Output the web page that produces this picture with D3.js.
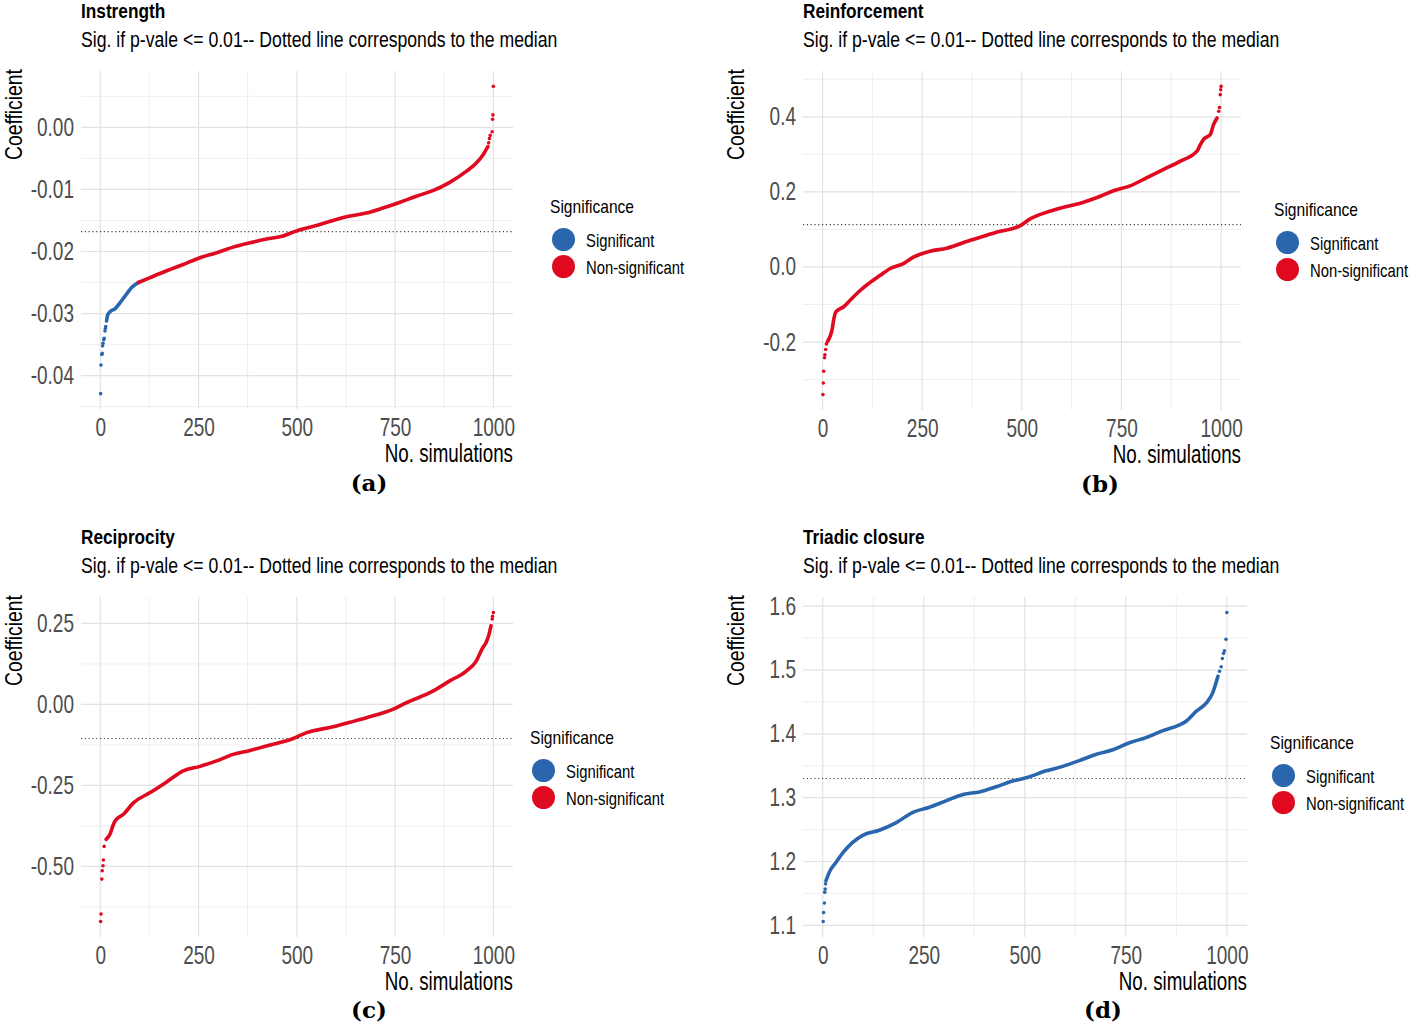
<!DOCTYPE html>
<html>
<head>
<meta charset="utf-8">
<script src="https://cdn.jsdelivr.net/npm/d3@7"></script>
<style>
  body { margin: 0; background: #fff; }
  svg text { font-family: 'Liberation Sans', Arial, sans-serif; }
  svg text.tag { font-family: 'DejaVu Serif', 'Liberation Serif', serif; font-weight: bold; }
</style>
</head>
<body>
<svg id="chart" width="1416" height="1030"></svg>
<script>
"use strict";

// values (rank of simulation -> coefficient)
// isolated points in the tails are kept as dots, the dense middle as a curve
const instrengthDotRank = [1, 2, 4, 5, 6, 7, 9, 10, 12, 13, 14, 988, 990, 992, 997, 998, 999, 1000];
const instrengthDotCoef = [-0.0429, -0.0383, -0.0366, -0.0364, -0.0352, -0.0348, -0.0342, -0.0340, -0.0328, -0.0324, -0.0321,
    -0.0025, -0.0018, -0.0013, -0.0007, 0.0013, 0.0020, 0.0066];
const instrengthCurveRank = [16, 19, 25, 38, 51, 63, 80, 97, 127, 169, 211, 254, 296, 338, 381, 423, 465, 490, 508, 550,
    592, 635, 677, 719, 761, 804, 846, 888, 931, 956, 973, 986];
const instrengthCurveCoef = [-0.0312, -0.0302, -0.0297, -0.0292, -0.0282, -0.0272, -0.0258, -0.0250, -0.0242, -0.0231,
    -0.0221, -0.0210, -0.0202, -0.0193, -0.0186, -0.0180, -0.0175, -0.0169, -0.0165, -0.0158, -0.0150, -0.0143, -0.0138,
    -0.0130, -0.0121, -0.0111, -0.0102, -0.0089, -0.0071, -0.0058, -0.0045, -0.0031];
const instrengthSignificant = 97;
const instrengthMedian = -0.0168;
const instrengthTicks = [-0.04, -0.03, -0.02, -0.01, 0.00];

const reinforcementDotRank = [1, 2, 3, 5, 6, 8, 10, 994, 996, 998, 999, 1000];
const reinforcementDotCoef = [-0.340, -0.309, -0.278, -0.242, -0.234, -0.220, -0.205, 0.415, 0.425, 0.459, 0.472, 0.481];
const reinforcementCurveRank = [13, 19, 24, 28, 34, 53, 70, 95, 111, 145, 170, 203, 228, 270, 312, 354, 396, 438, 496, 521,
    563, 605, 647, 689, 730, 772, 814, 856, 898, 940, 948, 956, 973, 981, 990];
const reinforcementCurveCoef = [-0.198, -0.185, -0.167, -0.141, -0.119, -0.106, -0.088, -0.062, -0.048, -0.022, -0.004,
    0.009, 0.026, 0.042, 0.050, 0.065, 0.079, 0.093, 0.110, 0.128, 0.146, 0.159, 0.170, 0.185, 0.203, 0.216, 0.238, 0.260,
    0.282, 0.309, 0.326, 0.340, 0.353, 0.379, 0.397];
const reinforcementSignificant = 0;
const reinforcementMedian = 0.113;
const reinforcementTicks = [-0.2, 0.0, 0.2, 0.4];

const reciprocityDotRank = [1, 2, 4, 5, 7, 8, 10, 997, 998, 1000];
const reciprocityDotCoef = [-0.670, -0.647, -0.539, -0.513, -0.498, -0.480, -0.438, 0.264, 0.272, 0.284];
const reciprocityCurveRank = [15, 25, 32, 38, 59, 85, 127, 169, 211, 254, 296, 338, 381, 423, 491, 525, 592, 635, 677, 744,
    778, 846, 888, 931, 956, 973, 981, 990, 994];
const reciprocityCurveCoef = [-0.416, -0.400, -0.375, -0.359, -0.339, -0.303, -0.272, -0.239, -0.205, -0.191, -0.174,
    -0.154, -0.142, -0.128, -0.105, -0.087, -0.069, -0.055, -0.041, -0.015, 0.005, 0.041, 0.072, 0.103, 0.133, 0.175, 0.190,
    0.221, 0.243];
const reciprocitySignificant = 0;
const reciprocityMedian = -0.105;
const reciprocityTicks = [-0.50, -0.25, 0.00, 0.25];

const triadicDotRank = [1, 2, 4, 5, 6, 7, 982, 986, 989, 992, 994, 998, 1000];
const triadicDotCoef = [1.106, 1.120, 1.135, 1.152, 1.157, 1.165, 1.498, 1.505, 1.518, 1.526, 1.530, 1.548, 1.590];
const triadicCurveRank = [8, 16, 33, 50, 74, 99, 140, 182, 223, 264, 305, 347, 388, 429, 470, 503, 553, 594, 635, 677, 718,
    759, 800, 842, 883, 900, 924, 949, 965, 978];
const triadicCurveCoef = [1.170, 1.183, 1.199, 1.214, 1.230, 1.241, 1.249, 1.261, 1.277, 1.285, 1.295, 1.305, 1.309,
    1.317, 1.326, 1.331, 1.342, 1.349, 1.358, 1.368, 1.375, 1.386, 1.394, 1.405, 1.414, 1.420, 1.435, 1.448, 1.464, 1.490];
const triadicSignificant = 1000;
const triadicMedian = 1.330;
const triadicTicks = [1.1, 1.2, 1.3, 1.4, 1.5, 1.6];

const simTicks = [0, 250, 500, 750, 1000];
const simCount = 1000;
const legendLabels = ["Significant", "Non-significant"];
const subtitle = "Sig. if p-vale <= 0.01-- Dotted line corresponds to the median";

const sigColor = "#2a66ad",
    nonSigColor = "#df0a1f";

const locale = d3.formatLocale({
    decimal: ".",
    thousands: ",",
    grouping: [3],
    currency: ["", ""],
    minus: "-"
});

const panels = [
    {
        title: "Instrength", tag: "(a)",
        dotRank: instrengthDotRank, dotCoef: instrengthDotCoef,
        curveRank: instrengthCurveRank, curveCoef: instrengthCurveCoef,
        sig: instrengthSignificant, median: instrengthMedian, ticks: instrengthTicks, fmt: ".2f",
        box: { left: 81, right: 513, top: 71, bottom: 409 },
        legend: { x: 550, y: 213 }, tagPos: { x: 369, y: 491 }
    },
    {
        title: "Reinforcement", tag: "(b)",
        dotRank: reinforcementDotRank, dotCoef: reinforcementDotCoef,
        curveRank: reinforcementCurveRank, curveCoef: reinforcementCurveCoef,
        sig: reinforcementSignificant, median: reinforcementMedian, ticks: reinforcementTicks, fmt: ".1f",
        box: { left: 803, right: 1241, top: 71, bottom: 410 },
        legend: { x: 1274, y: 216 }, tagPos: { x: 1100, y: 492 }
    },
    {
        title: "Reciprocity", tag: "(c)",
        dotRank: reciprocityDotRank, dotCoef: reciprocityDotCoef,
        curveRank: reciprocityCurveRank, curveCoef: reciprocityCurveCoef,
        sig: reciprocitySignificant, median: reciprocityMedian, ticks: reciprocityTicks, fmt: ".2f",
        box: { left: 81, right: 513, top: 597, bottom: 937 },
        legend: { x: 530, y: 744 }, tagPos: { x: 369, y: 1018 }
    },
    {
        title: "Triadic closure", tag: "(d)",
        dotRank: triadicDotRank, dotCoef: triadicDotCoef,
        curveRank: triadicCurveRank, curveCoef: triadicCurveCoef,
        sig: triadicSignificant, median: triadicMedian, ticks: triadicTicks, fmt: ".1f",
        box: { left: 803, right: 1247, top: 597, bottom: 937 },
        legend: { x: 1270, y: 749 }, tagPos: { x: 1103, y: 1018 }
    }
];

const svg = d3.select("#chart");
svg.append("rect").attr("width", 1416).attr("height", 1030).attr("fill", "#fff");

panels.forEach(drawPanel);

// the figure uses a narrow sans face; squeeze Liberation Sans to that width
svg.selectAll("text[data-k]").each(function () {
    const w = this.getComputedTextLength();
    d3.select(this)
        .attr("textLength", w * +this.getAttribute("data-k"))
        .attr("lengthAdjust", "spacingAndGlyphs");
});

function expand(ext) {
    const pad = (ext[1] - ext[0]) * 0.05;
    return [ext[0] - pad, ext[1] + pad];
}

function minorsOf(ticks, domain) {
    const step = ticks[1] - ticks[0];
    const out = [ticks[0] - step / 2];
    ticks.forEach(t => out.push(t + step / 2));
    return out.filter(v => v >= domain[0] && v <= domain[1]);
}

function drawPanel(p) {
    const b = p.box;
    const g = svg.append("g");

    const x = d3.scaleLinear()
        .domain(expand([1, simCount]))
        .range([b.left, b.right]);
    const y = d3.scaleLinear()
        .domain(expand(d3.extent(p.dotCoef.concat(p.curveCoef))))
        .range([b.bottom, b.top]);

    // grid
    const grid = g.append("g");
    const xMinor = minorsOf(simTicks, x.domain());
    const yMinor = minorsOf(p.ticks, y.domain());
    grid.selectAll(".xminor").data(xMinor).enter().append("line")
        .attr("x1", d => x(d)).attr("x2", d => x(d))
        .attr("y1", b.top).attr("y2", b.bottom)
        .attr("stroke", "#ebebeb").attr("stroke-width", 0.8);
    grid.selectAll(".yminor").data(yMinor).enter().append("line")
        .attr("y1", d => y(d)).attr("y2", d => y(d))
        .attr("x1", b.left).attr("x2", b.right)
        .attr("stroke", "#ebebeb").attr("stroke-width", 0.8);
    grid.selectAll(".xmajor").data(simTicks).enter().append("line")
        .attr("x1", d => x(d)).attr("x2", d => x(d))
        .attr("y1", b.top).attr("y2", b.bottom)
        .attr("stroke", "#e2e2e2").attr("stroke-width", 1.2);
    grid.selectAll(".ymajor").data(p.ticks).enter().append("line")
        .attr("y1", d => y(d)).attr("y2", d => y(d))
        .attr("x1", b.left).attr("x2", b.right)
        .attr("stroke", "#e2e2e2").attr("stroke-width", 1.2);

    // axes
    const yAxis = g.append("g")
        .attr("transform", `translate(${b.left},0)`)
        .call(d3.axisLeft(y).tickValues(p.ticks).tickSize(0).tickPadding(7)
            .tickFormat(locale.format(p.fmt)));
    const xAxis = g.append("g")
        .attr("transform", `translate(0,${b.bottom})`)
        .call(d3.axisBottom(x).tickValues(simTicks).tickSize(0).tickPadding(9)
            .tickFormat(d3.format("d")));
    [xAxis, yAxis].forEach(a => {
        a.select(".domain").remove();
        a.selectAll("text")
            .attr("fill", "#4d4d4d")
            .attr("font-family", null)
            .attr("font-size", null)
            .attr("data-k", 0.76)
            .style("font-size", "25px");
    });

    g.append("text")
        .attr("x", b.right).attr("y", b.bottom + 53)
        .attr("text-anchor", "end")
        .attr("data-k", 0.75)
        .style("font-size", "25px")
        .text("No. simulations");
    g.append("text")
        .attr("transform", `translate(${b.left - 59},${b.top - 2}) rotate(-90)`)
        .attr("text-anchor", "end")
        .attr("data-k", 0.79)
        .style("font-size", "24.5px")
        .text("Coefficient");

    // titles
    g.append("text")
        .attr("x", b.left).attr("y", b.top - 53.5)
        .attr("data-k", 0.82)
        .style("font-size", "21px").style("font-weight", "bold")
        .text(p.title);
    g.append("text")
        .attr("x", b.left).attr("y", b.top - 24)
        .attr("data-k", 0.82)
        .style("font-size", "21.5px")
        .text(subtitle);

    // median
    g.append("line")
        .attr("x1", b.left).attr("x2", b.right)
        .attr("y1", y(p.median)).attr("y2", y(p.median))
        .attr("stroke", "#444").attr("stroke-width", 1.2)
        .attr("stroke-dasharray", "1.2 2.6");

    // dense part as a thick curve, split by significance
    const curve = p.curveRank.map((r, i) => ({ rank: r, coef: p.curveCoef[i] }));
    const line = d3.line()
        .x(d => x(d.rank))
        .y(d => y(d.coef))
        .curve(d3.curveMonotoneX);
    const sigPart = curve.filter(d => d.rank <= p.sig);
    const nonPart = curve.filter(d => d.rank >= p.sig);
    [[sigPart, sigColor], [nonPart, nonSigColor]].forEach(([pts, col]) => {
        if (pts.length < 2) return;
        g.append("path")
            .datum(pts)
            .attr("d", line)
            .attr("fill", "none")
            .attr("stroke", col)
            .attr("stroke-width", 3.6)
            .attr("stroke-linecap", "round")
            .attr("stroke-linejoin", "round");
    });

    const dots = p.dotRank.map((r, i) => ({ rank: r, coef: p.dotCoef[i] }));
    g.selectAll(".dot").data(dots).enter().append("circle")
        .attr("cx", d => x(d.rank))
        .attr("cy", d => y(d.coef))
        .attr("r", 1.8)
        .attr("fill", d => d.rank <= p.sig ? sigColor : nonSigColor);

    // legend
    const lg = g.append("g").attr("transform", `translate(${p.legend.x},${p.legend.y})`);
    lg.append("text").attr("data-k", 0.82).style("font-size", "19px").text("Significance");
    legendLabels.forEach((lab, i) => {
        lg.append("circle")
            .attr("cx", 13.5).attr("cy", 26.5 + i * 27)
            .attr("r", 11.5)
            .attr("fill", i === 0 ? sigColor : nonSigColor);
        lg.append("text")
            .attr("x", 36).attr("y", 33.5 + i * 27)
            .attr("data-k", 0.78)
            .style("font-size", "19px")
            .text(lab);
    });

    // subfigure tag
    svg.append("text")
        .attr("class", "tag")
        .attr("x", p.tagPos.x).attr("y", p.tagPos.y)
        .attr("text-anchor", "middle")
        .style("font-size", "23px")
        .text(p.tag);
}
</script>
</body>
</html>
